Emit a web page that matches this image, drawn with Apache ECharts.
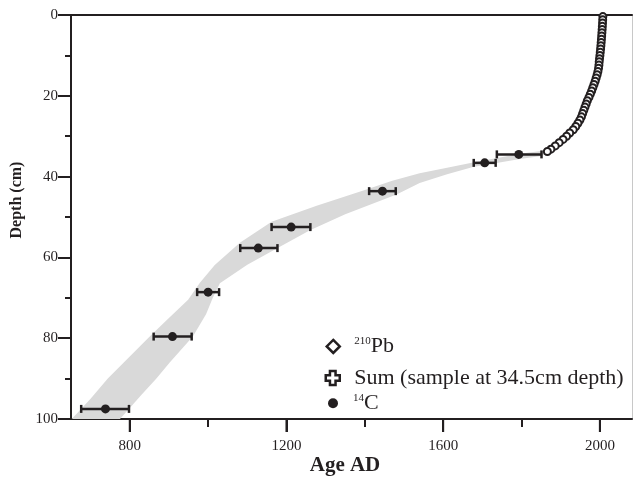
<!DOCTYPE html>
<html><head><meta charset="utf-8">
<script src="https://cdn.jsdelivr.net/npm/echarts@6/dist/echarts.min.js"></script>
<style>html,body{margin:0;padding:0;background:#fff}#c{width:634px;height:477px}</style>
</head><body><div id="c"></div>
<script>
// 210Pb dated depths (cm) and ages (AD)
const pbDepth = [0.4,1.2,2.0,2.8,3.6,4.4,5.2,6.0,6.8,7.6,8.4,9.2,10.0,10.8,11.6,12.4,13.2,14.0,14.8,15.6,16.4,17.2,18.0,18.8,19.6,20.4,21.2,22.0,22.8,23.6,24.4,25.2,26.0,26.8,27.6,28.4,29.2,30.0,30.8,31.6,32.4,33.2,33.8];
const pbAge = [2007.6,2007.2,2006.8,2006.3,2005.8,2005.2,2004.6,2004.0,2003.3,2002.6,2001.8,2001.0,2000.1,1999.1,1998.3,1997.6,1996.6,1995.0,1993.0,1990.5,1988.0,1985.0,1982.0,1979.0,1975.5,1972.0,1968.0,1965.0,1962.0,1959.0,1956.0,1953.0,1949.0,1944.0,1938.5,1932.0,1923.0,1915.0,1906.0,1896.0,1886.0,1875.0,1866.0];
// 14C dates: median age, depth, error range
const c14Age = [1706,1445,1212,1128,1000,909,738];
const c14Depth = [36.6,43.6,52.5,57.7,68.6,79.6,97.5];
const c14Min = [1678,1411,1162,1082,972,861,676];
const c14Max = [1734,1479,1261,1177,1028,958,798];
// Sum sample
const sumAge = [1793];
const sumDepth = [34.5];
const sumMin = [1737];
const sumMax = [1851];
// Uncertainty envelope: upper-left edge (bottom to top), lower-right edge (top to bottom)
const bandUpperAge = [652,700,744,800,851,900,949,979,1017,1081,1162,1277,1404,1470,1540,1610,1676,1800,1865];
const bandUpperDepth = [100,95,90,84.5,79.6,75,70.5,66.3,61.9,56.4,51.2,47.2,43.2,41.0,39.2,37.8,36.5,34.3,33.5];
const bandLowerAge = [1870,1851,1800,1676,1610,1540,1481,1350,1260,1175,1100,1030,1012,995,961,902,868,830,775];
const bandLowerDepth = [34.0,34.9,35.6,37.6,39.4,41.6,44.4,49.3,53.3,57.8,61.8,66.4,70,74,79.6,86,90,94,100];
// Axis ranges / ticks
const xMin = 650, xMax = 2082;          // visible age range of the plot
const tickStart = 800, tickEnd = 2000, tickStep = 400; // labelled ticks 800..2000
const xMajorTicks = [800, 1200, 1600, 2000];

const FF = "'Liberation Serif','Times New Roman',serif";
const INK = '#231f20';
const chart = echarts.init(document.getElementById('c'));

// plot box geometry
const W = 634, gL = 71, gT = 15, gR = 2, gB = 58;
const pxPerYear = (W - gL - gR) / (xMax - xMin);
// a second, overlapping grid on the same scale that carries the tick marks (min is a multiple of the interval)
const tickLeft = gL + (tickStart - xMin) * pxPerYear;
const tickRight = W - (tickLeft + (tickEnd - tickStart) * pxPerYear);

function errBar(params, api) {
  const y = api.value(1);
  const lo = api.coord([api.value(2), y]);
  const hi = api.coord([api.value(3), y]);
  const h = 4;
  const st = {stroke: INK, lineWidth: 2.5};
  return {type: 'group', children: [
    {type: 'line', shape: {x1: lo[0], y1: lo[1], x2: hi[0], y2: hi[1]}, style: st},
    {type: 'line', shape: {x1: lo[0], y1: lo[1] - h, x2: lo[0], y2: lo[1] + h}, style: st},
    {type: 'line', shape: {x1: hi[0], y1: hi[1] - h, x2: hi[0], y2: hi[1] + h}, style: st}
  ]};
}

const axisLine = {onZero: false, lineStyle: {color: INK, width: 2}};
const tickStyle = {color: INK, width: 2};

chart.setOption({
  animation: false,
  backgroundColor: '#fff',
  grid: [
    {left: gL, top: gT, right: gR, bottom: gB, containLabel: false},
    {left: tickLeft, top: gT, right: tickRight, bottom: gB, containLabel: false}
  ],
  xAxis: [
    {type: 'value', gridIndex: 0, position: 'bottom', min: xMin, max: xMax,
     axisLine: axisLine, axisTick: {show: false}, axisLabel: {show: false}, splitLine: {show: false}},
    {type: 'value', gridIndex: 0, position: 'top', min: xMin, max: xMax,
     axisLine: axisLine, axisTick: {show: false}, axisLabel: {show: false}, splitLine: {show: false}},
    {type: 'value', gridIndex: 1, position: 'bottom', min: tickStart, max: tickEnd, interval: tickStep,
     axisLine: {show: false, onZero: false},
     axisTick: {show: true, length: 13, lineStyle: tickStyle},
     minorTick: {show: true, splitNumber: 2, length: 8, lineStyle: tickStyle},
     axisLabel: {fontSize: 15, color: INK, fontFamily: FF, margin: 20, formatter: v => String(v)},
     splitLine: {show: false}, minorSplitLine: {show: false}}
  ],
  yAxis: [
    {type: 'value', gridIndex: 0, position: 'left', inverse: true, min: 0, max: 100, interval: 20,
     axisLine: axisLine,
     axisTick: {show: true, length: 13, lineStyle: tickStyle},
     minorTick: {show: true, splitNumber: 2, length: 6, lineStyle: tickStyle},
     axisLabel: {fontSize: 15, color: INK, fontFamily: FF, margin: 13},
     splitLine: {show: false}, minorSplitLine: {show: false}},
    {type: 'value', gridIndex: 0, position: 'right', inverse: true, min: 0, max: 100,
     axisLine: {onZero: false, lineStyle: {color: '#c8c8c8', width: 1}},
     axisTick: {show: false}, axisLabel: {show: false}, splitLine: {show: false}},
    {type: 'value', gridIndex: 1, show: false, min: 0, max: 100, splitLine: {show: false}}
  ],
  legend: [
    {data: [{name: '210Pb', icon: 'diamond', itemStyle: {color: '#fff', borderColor: INK, borderWidth: 2.5}}],
     left: 325.5, top: 335.4, padding: 0, itemWidth: 13, itemHeight: 13, selectedMode: false,
     formatter: () => '{s|210}{t|Pb}',
     textStyle: {padding: [0, 0, 0, 9.5], rich: {
       s: {fontSize: 11, fontFamily: FF, color: INK, verticalAlign: 'top'},
       t: {fontSize: 22, fontFamily: FF, color: INK}}}},
    {data: [{name: 'Sum (sample at 34.5cm depth)', icon: 'path://M3,0H7V3H10V7H7V10H3V7H0V3H3Z',
             itemStyle: {color: '#fff', borderColor: INK, borderWidth: 2.5}}],
     left: 324.5, top: 367, padding: 0, itemWidth: 14, itemHeight: 14, selectedMode: false,
     textStyle: {padding: [0, 0, 0, 9.5], fontSize: 22, fontFamily: FF, color: INK}},
    {data: [{name: '14C', icon: 'circle', itemStyle: {color: INK}}],
     left: 328, top: 392.2, padding: 0, itemWidth: 10, itemHeight: 10, selectedMode: false,
     formatter: () => '{s|14}{t|C}',
     textStyle: {padding: [0, 0, 0, 10], rich: {
       s: {fontSize: 11, fontFamily: FF, color: INK, verticalAlign: 'top'},
       t: {fontSize: 22, fontFamily: FF, color: INK}}}}
  ],
  graphic: [
    {type: 'text', x: 345, y: 466, style: {text: 'Age AD', font: 'bold 21px ' + FF, fill: INK, textAlign: 'center', textVerticalAlign: 'middle'}},
    {type: 'text', x: 17, y: 200, rotation: Math.PI / 2, style: {text: 'Depth (cm)', font: 'bold 16px ' + FF, fill: INK, textAlign: 'center', textVerticalAlign: 'middle'}}
  ],
  series: [
    {type: 'custom', name: 'band', silent: true, z: 1,
     data: [[bandUpperAge[0], bandUpperDepth[0]]],
     renderItem: function (params, api) {
       const pts = [];
       for (let i = 0; i < bandUpperAge.length; i++) pts.push(api.coord([bandUpperAge[i], bandUpperDepth[i]]));
       for (let i = 0; i < bandLowerAge.length; i++) pts.push(api.coord([bandLowerAge[i], bandLowerDepth[i]]));
       return {type: 'polygon', shape: {points: pts}, style: {fill: '#d9d9d9'}};
     }},
    {type: 'custom', name: 'xMajorTickMarks', silent: true, clip: false, z: 6,
     data: xMajorTicks.map(v => [v, 100]),
     renderItem: function (params, api) {
       const p = api.coord([api.value(0), api.value(1)]);
       return {type: 'line', shape: {x1: p[0], y1: p[1], x2: p[0], y2: p[1] + 13}, style: {stroke: INK, lineWidth: 2}};
     }},
    {type: 'custom', name: '14C', z: 3, renderItem: errBar, encode: {x: 0, y: 1},
     data: c14Age.map((a, i) => [a, c14Depth[i], c14Min[i], c14Max[i]])},
    {type: 'scatter', name: '14C', z: 4, symbol: 'circle', symbolSize: 9, itemStyle: {color: INK, opacity: 1},
     data: c14Age.map((a, i) => [a, c14Depth[i]])},
    {type: 'custom', name: 'Sum (sample at 34.5cm depth)', z: 3, renderItem: errBar, encode: {x: 0, y: 1},
     data: sumAge.map((a, i) => [a, sumDepth[i], sumMin[i], sumMax[i]])},
    {type: 'scatter', name: 'Sum (sample at 34.5cm depth)', z: 4, symbol: 'circle', symbolSize: 9, itemStyle: {color: INK, opacity: 1},
     data: sumAge.map((a, i) => [a, sumDepth[i]])},
    {type: 'scatter', name: '210Pb', z: 5, symbol: 'emptyCircle', symbolSize: 7,
     itemStyle: {color: INK, borderColor: INK, borderWidth: 2.2, opacity: 1},
     data: pbAge.map((a, i) => [a, pbDepth[i]])}
  ]
});
</script></body></html>
